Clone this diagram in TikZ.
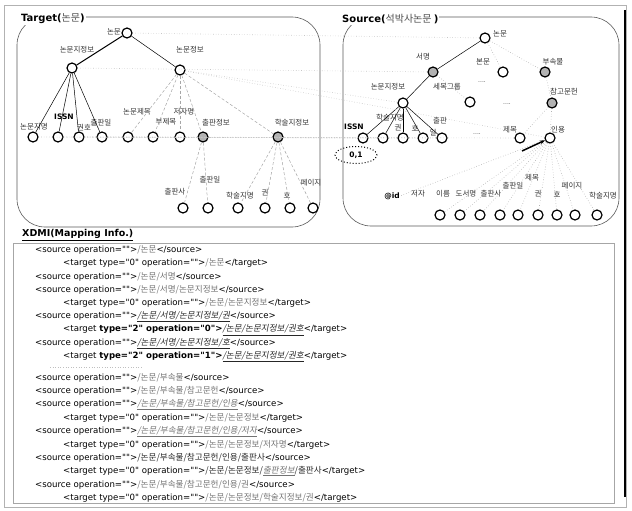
\documentclass[tikz,border=0pt]{standalone}
\usepackage{fontspec}
\setmainfont{DejaVu Sans}[Ligatures=TeXOff]
\newfontfamily\kr{Noto Sans CJK KR}
\newfontfamily\krsl[FakeSlant=0.18]{Noto Sans CJK KR}
\usetikzlibrary{shapes.geometric,arrows.meta}
\newcommand\korg[1]{{\kr\color{black!55}#1}}
\newcommand\koru[1]{{\krsl\color{black!85}\underline{#1}}}
\newcommand\korug[1]{{\krsl\color{black!55}\underline{#1}}}
\newcommand\kord[1]{{\kr\color{black!85}#1}}
\tikzset{
 nd/.style={circle,draw=black,line width=1.2pt,fill=white,minimum size=10pt,inner sep=0pt},
 fnd/.style={nd,fill=gray!60},
 lb/.style={inner sep=0pt,font=\kr\fontsize{7.5}{8}\selectfont,text=black!80},
 lbb/.style={inner sep=0pt,font=\bfseries\fontsize{7.5}{8}\selectfont},
 tedge/.style={draw=black,line width=0.5pt},
 dedge/.style={draw=gray!70,densely dashed,line width=0.5pt},
 pedge/.style={draw=gray!60,dotted,line width=0.6pt},
 mapl/.style={draw=gray!45,dotted,line width=0.6pt},
 xs/.style={anchor=west,inner sep=0pt,font=\fontsize{8.6}{10}\selectfont},
 rbox/.style={draw=black!65,line width=0.6pt,rounded corners=28pt},
 ttl/.style={anchor=west,fill=white,inner sep=1pt,font=\fontsize{10}{12}\selectfont},
 dots/.style={inner sep=0pt,font=\fontsize{6}{6}\selectfont,text=black!70},
}
\begin{document}
\begin{tikzpicture}[x=1pt,y=-1pt]
\useasboundingbox (0,0) rectangle (632,511);
% outer frame
\draw[gray!60,line width=0.8pt] (4,5) rectangle (626,507);
\draw[black,line width=2pt] (625,10) -- (625,497);
% boxes
\draw[rbox] (17,17) rectangle (320,227);
\draw[rbox] (343,17) rectangle (619,226);
\node[ttl] (tt) at (20,19) {\textbf{Target(}{\kr\color{black!70}논문}\textbf{)}};
\node[ttl] (st) at (341,19) {\textbf{Source(}{\kr\color{black!70}석박사논문 }\textbf{)}};

% ---------- Target tree ----------
\node[nd] (T0) at (127,33) {};
\node[lb,anchor=east] (lT0) at (121,32) {논문};
\node[nd] (T1) at (72,68) {};
\node[lb] (lT1) at (77,50) {논문지정보};
\node[nd] (T2) at (180,70) {};
\node[lb] (lT2) at (190,50) {논문정보};
\node[nd] (TL1) at (33,137) {};
\node[nd] (TL2) at (58,137) {};
\node[nd] (TL3) at (79,137) {};
\node[nd] (TL4) at (102,137) {};
\node[nd] (TL5) at (128,137) {};
\node[nd] (TL6) at (153,137) {};
\node[nd] (TL7) at (180,137) {};
\node[fnd] (TF1) at (203,137) {};
\node[fnd] (TF2) at (278,137) {};
\node[lb] (lTL1) at (34,127) {논문지명};
\node[lbb] (lTL2) at (64,117) {ISSN};
\node[lb] (lTL3) at (84,128) {권호};
\node[lb] (lTL4) at (101,123) {출판일};
\node[lb] (lTL5) at (137,112) {논문제목};
\node[lb] (lTL6) at (166,122) {부제목};
\node[lb] (lTL7) at (184,112) {저자명};
\node[lb] (lTF1) at (216,123) {출판정보};
\node[lb] (lTF2) at (292,123) {학술지정보};
\node[nd] (TB1) at (183,208) {};
\node[nd] (TB2) at (208,208) {};
\node[nd] (TB3) at (238,208) {};
\node[nd] (TB4) at (265,208) {};
\node[nd] (TB5) at (290,208) {};
\node[nd] (TB6) at (313,208) {};
\node[lb] (lTB1) at (175,192) {출판사};
\node[lb] (lTB2) at (210,180) {출판일};
\node[lb] (lTB3) at (240,196) {학술지명};
\node[lb] (lTB4) at (265,193) {권};
\node[lb] (lTB5) at (287,195) {호};
\node[lb] (lTB6) at (311,183) {페이지};

\draw[tedge,line width=1pt] (T0) -- (T1);
\draw[tedge] (T0) -- (T2);
\foreach \n in {TL1,TL2,TL3,TL4} \draw[tedge] (T1) -- (\n);
\foreach \n in {TL5,TL6,TL7,TF1,TF2} \draw[dedge] (T2) -- (\n);
\foreach \n in {TB1,TB2} \draw[dedge] (TF1) -- (\n);
\foreach \n in {TB3,TB4,TB5,TB6} \draw[dedge] (TF2) -- (\n);

% ---------- Source tree ----------
\node[nd] (S0) at (485,38) {};
\node[lb,anchor=west] (lS0) at (493,34) {논문};
\node[fnd] (S1) at (433,72) {};
\node[lb] (lS1) at (423,57) {서명};
\node[nd] (S2) at (503,72) {};
\node[lb] (lS2) at (483,62) {본문};
\node[fnd] (S3) at (545,72) {};
\node[lb] (lS3) at (553,62) {부속물};
\node[nd] (S4) at (403,103) {};
\node[lb] (lS4) at (388,87) {논문지정보};
\node[nd] (S5) at (470,102) {};
\node[lb] (lS5) at (447,87) {세목그룹};
\node[fnd] (S6) at (552,103) {};
\node[lb] (lS6) at (564,92) {참고문헌};
\node[dots] (d1) at (482,82) {....};
\node[dots] (d2) at (507,104) {....};
\node[dots] (d3) at (477,134) {....};
\node[nd] (SL1) at (363,138) {};
\node[nd] (SL2) at (383,138) {};
\node[nd] (SL3) at (403,138) {};
\node[nd] (SL4) at (423,138) {};
\node[nd] (SL5) at (442,138) {};
\node[nd] (SL6) at (520,138) {};
\node[nd] (SL7) at (550,138) {};
\node[lbb] (lSL1) at (354,127) {ISSN};
\node[lb] (lSL2) at (390,118) {학술지명};
\node[lb] (lSL3) at (398,128) {권};
\node[lb] (lSL4) at (415,128) {호};
\node[lb] (lSL5a) at (440,121) {출판};
\node[lb] (lSL5b) at (433,133) {일};
\node[lb] (lSL6) at (510,130) {제목};
\node[lb] (lSL7) at (558,130) {인용};
\node[draw,ellipse,dotted,line width=1pt,minimum width=42pt,minimum height=17pt,inner sep=0pt,font=\bfseries\fontsize{7.5}{8}\selectfont] (e01) at (356,155) {0,1};
\foreach \i/\x in {1/440,2/460,3/480,4/500,5/518,6/538,7/557,8/575,9/597}
  \node[nd] (SB\i) at (\x,215) {};
\node[lbb] (lid) at (392,196) {@id};
\node[lb] (lSB0) at (418,194) {저자};
\node[lb] (lSB1) at (443,194) {이름};
\node[lb] (lSB2) at (466,194) {도서명};
\node[lb] (lSB3) at (491,194) {출판사};
\node[lb] (lSB4) at (513,186) {출판일};
\node[lb] (lSB5) at (532,178) {제목};
\node[lb] (lSB6) at (538,194) {권};
\node[lb] (lSB7) at (557,194) {호};
\node[lb] (lSB8) at (572,186) {페이지};
\node[lb] (lSB9) at (603,196) {학술지명};

\draw[tedge] (S0) -- (S1);
\draw[tedge] (S1) -- (S4);
\draw[pedge] (S0) -- (S2);
\draw[pedge] (S0) -- (S3);
\draw[pedge] (S1) -- (S5);
\draw[pedge] (S3) -- (S6);
\draw[pedge] (S6) -- (SL6);
\draw[pedge] (S6) -- (SL7);
\foreach \n in {SL1,SL2,SL3,SL4,SL5} \draw[tedge] (S4) -- (\n);
\foreach \i in {1,...,9} \draw[pedge] (SL7) -- (SB\i);
\draw[pedge] (SL7) -- (lid.east);
\coordinate (arS) at (522,151);
\draw[line width=1.5pt,-{Stealth[length=5pt,width=4pt]}] (arS) -- (SL7);

% ---------- mapping lines ----------
\draw[mapl] (T0) -- (S0);
\draw[mapl] (T1) -- (S1);
\draw[mapl] (T2) -- (S4);
\draw[mapl] (TL1) -- (SL2);
\draw[mapl] (TL2) -- (SL1);
\draw[mapl] (TL3) -- (SL3);
\draw[mapl] (TL3) -- (SL4);
\draw[mapl] (TL4) -- (SL5);
\draw[mapl] (TL5) -- (SL6);
\draw[mapl] (T2) -- (SL7);

% ---------- XDMI ----------
\node[anchor=west,inner sep=0pt,font=\bfseries\fontsize{9.5}{11}\selectfont] (xt) at (22,235) {\underline{XDMI(Mapping Info.)}};
\draw[gray!70,line width=0.5pt] (13,243) rectangle (614,503);
\node[xs] (x1) at (35,250) {<source operation="">\korg{/논문}</source>};
\node[xs] (x2) at (63,263.3) {<target type="0" operation="">\korg{/논문}</target>};
\node[xs] (x3) at (35,276.7) {<source operation="">\korg{/논문/서명}</source>};
\node[xs] (x4) at (35,290) {<source operation="">\korg{/논문/서명/논문지정보}</source>};
\node[xs] (x5) at (63,303.3) {<target type="0" operation="">\korg{/논문/논문지정보}</target>};
\node[xs] (x6) at (35,316.7) {<source operation="">\koru{/논문/서명/논문지정보/권}</source>};
\node[xs] (x7) at (63,330) {<target \textbf{type="2" operation="0">}\koru{/논문/논문지정보/권호}</target>};
\node[xs] (x8) at (35,343.3) {<source operation="">\koru{/논문/서명/논문지정보/호}</source>};
\node[xs] (x9) at (63,356.7) {<target \textbf{type="2" operation="1">}\koru{/논문/논문지정보/권호}</target>};
\coordinate (fa) at (50,367);
\coordinate (fb) at (143,367);
\draw[gray!50,dotted,line width=0.6pt] (fa) -- (fb);
\node[xs] (x10) at (35,378) {<source operation="">\korg{/논문/부속물}</source>};
\node[xs] (x11) at (35,391.3) {<source operation="">\korg{/논문/부속물/참고문헌}</source>};
\node[xs] (x12) at (35,404.7) {<source operation="">\korug{/논문/부속물/참고문헌/인용}</source>};
\node[xs] (x13) at (63,418) {<target type="0" operation="">\korg{/논문/논문정보}</target>};
\node[xs] (x14) at (35,431.3) {<source operation="">\korug{/논문/부속물/참고문헌/인용/저자}</source>};
\node[xs] (x15) at (63,444.7) {<target type="0" operation="">\korg{/논문/논문정보/저자명}</target>};
\node[xs] (x16) at (35,458) {<source operation="">\kord{/논문/부속물/참고문헌/인용/출판사}</source>};
\node[xs] (x17) at (63,471.3) {<target type="0" operation="">\kord{/논문/논문정보/}\korug{출판정보}\kord{/출판사}</target>};
\node[xs] (x18) at (35,484.7) {<source operation="">\korg{/논문/부속물/참고문헌/인용/권}</source>};
\node[xs] (x19) at (63,497.5) {<target type="0" operation="">\korg{/논문/논문정보/학술지정보/권}</target>};
\end{tikzpicture}
\end{document}
